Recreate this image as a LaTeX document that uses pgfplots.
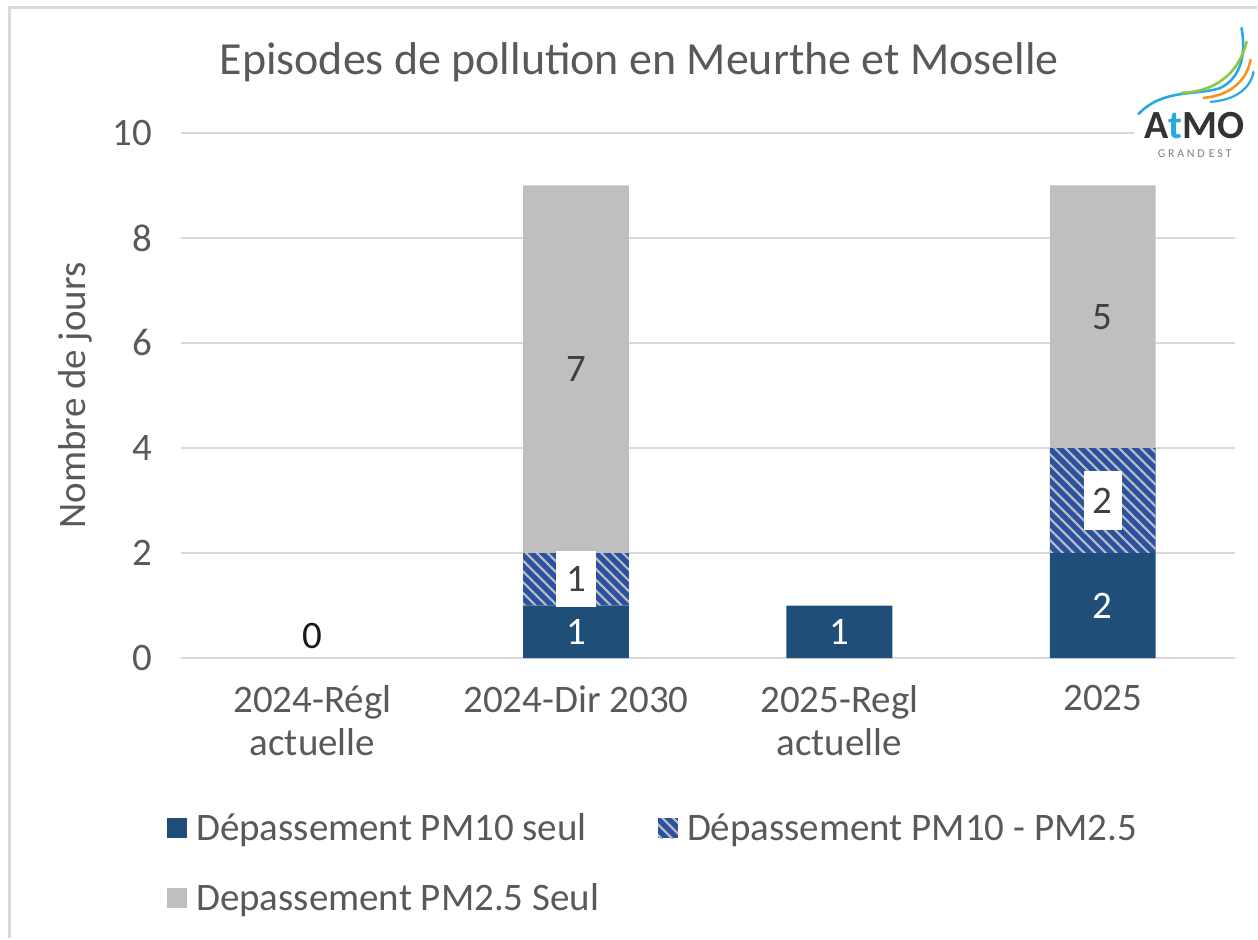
\documentclass[border=0pt]{standalone}
\usepackage{fontspec}
\setmainfont{Carlito}
\usepackage{pgfplots}
\pgfplotsset{compat=1.18}
\usetikzlibrary{patterns.meta}
\definecolor{pmdark}{HTML}{1F4E79}
\definecolor{pmhatch}{HTML}{2B52A0}
\definecolor{pmgray}{HTML}{BFBFBF}
\definecolor{txt}{HTML}{595959}
\definecolor{lbl}{HTML}{404040}
\definecolor{gridc}{HTML}{D9D9D9}
\definecolor{logoblue}{HTML}{29A9E1}
\definecolor{logogreen}{HTML}{8DC63F}
\definecolor{logoorange}{HTML}{F7941D}
\newcommand{\lblfont}{\fontsize{19.5}{23}\selectfont}
\pgfplotsset{sq/.style={legend image code/.code={\path[##1] (0pt,-5pt) rectangle (10pt,5pt);}},
  samegeom/.style={at={(90.5pt,140pt)}, anchor=south west, scale only axis,
  width=527.5pt, height=263pt, xmin=-0.5, xmax=3.5, ymin=0, ymax=10}}
\begin{document}
\begin{tikzpicture}
\path (0,0) rectangle (629pt,469.5pt);
\draw[gridc, line width=1.5pt] (4.75pt,0) -- (4.75pt,465.75pt) -- (629pt,465.75pt);
\node[text=txt, font=\fontsize{23}{27}\selectfont] at (320pt,438.5pt) {Episodes de pollution en Meurthe et Moselle};
\begin{axis}[
  samegeom,
  ybar stacked, bar width=53pt,
  xtick={0,1,2,3},
  xticklabels={{2024-Régl\\actuelle},{2024-Dir 2030},{2025-Regl\\actuelle},{2025}},
  ytick={0,2,4,6,8,10},
  ymajorgrids, major grid style={gridc, line width=1pt},
  axis line style={draw=none},
  tick style={draw=none}, major tick length=0pt,
  tick label style={font=\fontsize{19.5}{21.5}\selectfont, text=txt},
  xticklabel style={align=center, yshift=-10pt},
  yticklabel style={xshift=-11pt},
  /pgf/number format/assume math mode=true,
  ylabel={Nombre de jours},
  ylabel style={at={(axis description cs:-0.1005,0.5)}, anchor=center, font=\lblfont, text=txt},
  legend columns=2, legend cell align=left,
  legend style={draw=none, fill=none, at={(-0.0133,-0.285)}, anchor=north west,
    inner sep=0pt, font=\lblfont, text=txt, nodes={inner sep=2.5pt},
    /tikz/every odd column/.append style={column sep=2pt},
    /tikz/every even column/.append style={column sep=27pt}, row sep=15pt},
]
\addplot[fill=pmdark, draw=none, sq] coordinates {(0,0) (1,1) (2,1) (3,2)};
\addlegendentry{Dépassement PM10 seul}
\addplot[draw=none, preaction={fill=pmhatch}, pattern={Lines[angle=-45,distance=3.8pt,line width=1.05pt]}, pattern color=pmgray, sq] coordinates {(0,0) (1,1) (2,0) (3,2)};
\addlegendentry{Dépassement PM10 - PM2.5}
\addplot[fill=pmgray, draw=none, sq] coordinates {(0,0) (1,7) (2,0) (3,5)};
\addlegendentry{Depassement PM2.5 Seul}
\end{axis}
\begin{axis}[samegeom, hide axis]
\node[text=black!90, font=\lblfont] at (axis cs:0,0.42) {0};
\node[text=white, font=\lblfont] at (axis cs:1,0.5) {1};
\node[fill=white, text=lbl, font=\lblfont, minimum width=20pt, minimum height=28pt, inner sep=0pt] at (axis cs:1,1.5) {1};
\node[text=lbl, font=\lblfont] at (axis cs:1,5.5) {7};
\node[text=white, font=\lblfont] at (axis cs:2,0.5) {1};
\node[text=white, font=\lblfont] at (axis cs:3,1) {2};
\node[fill=white, text=lbl, font=\lblfont, minimum width=19pt, minimum height=29.5pt, inner sep=0pt] at (axis cs:3,3) {2};
\node[text=lbl, font=\lblfont] at (axis cs:3,6.5) {5};
\end{axis}
\begin{scope}[x=0.5pt, y=-0.5pt, shift={(0pt,469.5pt)}]
  \fill[white] (1135,22) rectangle (1256,160);
  \draw[logoblue, line width=1.3pt, line cap=round] (1140,114) .. controls (1165,88) and (1200,96) .. (1222,88) .. controls (1242,78) and (1248,55) .. (1243,28);
  \draw[logogreen, line width=1.3pt, line cap=round] (1183,93) .. controls (1215,92) and (1240,75) .. (1248,42);
  \draw[logoorange, line width=1.3pt, line cap=round] (1205,98) .. controls (1230,96) and (1248,82) .. (1252,60);
  \draw[logoblue, line width=1.1pt, line cap=round] (1212,102) .. controls (1238,100) and (1252,88) .. (1255,72);
  \node[font=\fontsize{20}{20}\selectfont\bfseries, text=black!80, anchor=base, inner sep=0pt] at (1196,139) {A\textcolor{logoblue}{t}MO};
  \node[font=\fontsize{6}{7}\selectfont, text=gray, inner sep=0pt, anchor=north] at (1196,150) {G R A N D\,\,E S T};
\end{scope}
\end{tikzpicture}
\end{document}
